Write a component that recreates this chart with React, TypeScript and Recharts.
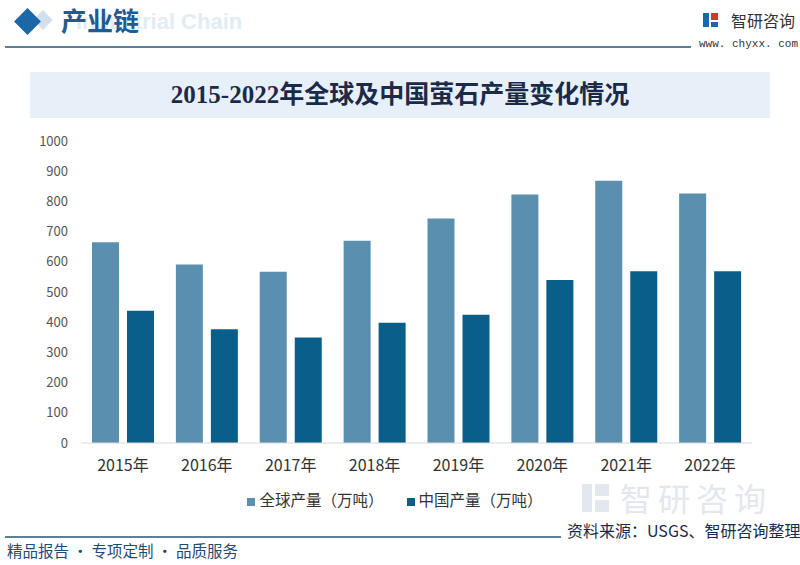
import React from 'react';
import { BarChart, Bar, XAxis, YAxis, Legend } from 'recharts';

const categories = ['2015年', '2016年', '2017年', '2018年', '2019年', '2020年', '2021年', '2022年'];
const globalOutput = [665, 591, 567, 670, 743, 823, 868, 826];
const chinaOutput = [438, 377, 349, 398, 425, 540, 569, 569];
const yTicks = [0, 100, 200, 300, 400, 500, 600, 700, 800, 900, 1000];
const seriesNames = ['全球产量（万吨）', '中国产量（万吨）'];

const data = categories.map((c, i) => ({ name: c, g: globalOutput[i], c: chinaOutput[i] }));

const CJK = '"Noto Sans CJK SC", "Noto Sans", sans-serif';

export default function App() {
  return (
    <div style={{ position: 'absolute', left: 0, top: 0, width: 800, height: 565, background: '#fff', overflow: 'hidden', fontFamily: CJK }}>
      {/* header */}
      <div style={{ position: 'absolute', left: 36, top: 13, width: 14, height: 14, background: '#d3dfeb', transform: 'rotate(45deg)' }} />
      <div style={{ position: 'absolute', left: 18, top: 12, width: 19, height: 19, background: '#1c67a8', transform: 'rotate(45deg)' }} />
      <div style={{ position: 'absolute', left: 76, top: 11, fontSize: 22, lineHeight: 1, fontWeight: 700, color: '#e2ecf5', fontFamily: 'Arial, "Liberation Sans", sans-serif', whiteSpace: 'nowrap' }}>Industrial Chain</div>
      <div style={{ position: 'absolute', left: 61, top: 6, fontSize: 26, lineHeight: 1.1, fontWeight: 700, color: '#1f5a92', fontFamily: CJK, whiteSpace: 'nowrap' }}>产业链</div>
      <div style={{ position: 'absolute', left: 5, top: 46, width: 686, height: 2, background: '#5e7f95' }} />
      <div style={{ position: 'absolute', left: 703, top: 13, width: 6, height: 14, background: '#1c67a8' }} />
      <div style={{ position: 'absolute', left: 711, top: 13, width: 7, height: 7, background: '#d8352a' }} />
      <div style={{ position: 'absolute', left: 711, top: 22, width: 7, height: 5, background: '#1c67a8' }} />
      <div style={{ position: 'absolute', left: 731, top: 8, fontSize: 16, color: '#333', whiteSpace: 'nowrap' }}>智研咨询</div>
      <div style={{ position: 'absolute', left: 699, top: 38, fontSize: 11, color: '#333', fontFamily: '"Liberation Mono", monospace', whiteSpace: 'nowrap' }}>www. chyxx. com</div>

      {/* title band */}
      <div style={{ position: 'absolute', left: 30, top: 72, width: 740, height: 46, background: '#e7f0f8' }} />
      <div style={{ position: 'absolute', left: 0, top: 80, width: 800, textAlign: 'center', fontSize: 25, lineHeight: 1.2, fontWeight: 700, color: '#1b2a48', fontFamily: '"Liberation Serif", "Noto Sans CJK SC", serif', whiteSpace: 'nowrap' }}>2015-2022年全球及中国萤石产量变化情况</div>

      {/* watermark bottom right */}
      <div style={{ position: 'absolute', left: 582, top: 484, width: 10, height: 28, background: '#e3e8ee' }} />
      <div style={{ position: 'absolute', left: 595, top: 484, width: 14, height: 12, background: '#e3e8ee' }} />
      <div style={{ position: 'absolute', left: 595, top: 500, width: 14, height: 12, background: '#e3e8ee' }} />
      <div style={{ position: 'absolute', left: 620, top: 481, fontSize: 32, lineHeight: 1, color: '#e3e8ee', letterSpacing: 6, whiteSpace: 'nowrap' }}>智研咨询</div>

      <div style={{ position: 'absolute', left: 0, top: 0 }}>
        <BarChart width={800} height={565} data={data} margin={{ top: 141, right: 48, bottom: 53, left: 0 }} barGap={8} barCategoryGap={11}>
          <XAxis dataKey="name" axisLine={{ stroke: '#d9d9d9' }} tickLine={false} tickMargin={11} height={45} tick={{ fontSize: 16, fill: '#333', fontFamily: CJK }} />
          <YAxis domain={[0, 1000]} ticks={yTicks} width={81} axisLine={false} tickLine={false} tickMargin={7} tick={{ fontSize: 13, fill: '#555', fontFamily: CJK }} interval={0} />
          <Legend verticalAlign="bottom" align="center" iconType="square" iconSize={8} height={24}
            itemSorter={(item: any) => (item.dataKey === 'g' ? 0 : 1)}
            formatter={(v: string, entry: any) => (
              <span style={{ color: '#333', fontSize: 15.5, fontFamily: CJK, marginRight: entry && entry.dataKey === 'g' ? 13 : 0 }}>{v}</span>
            )}
            wrapperStyle={{ fontSize: 15.5, left: 24 }} />
          <Bar dataKey="g" name={seriesNames[0]} fill="#5b8fb0" isAnimationActive={false} />
          <Bar dataKey="c" name={seriesNames[1]} fill="#0a5f8a" isAnimationActive={false} />
        </BarChart>
      </div>

      {/* footer */}
      <div style={{ position: 'absolute', left: 5, top: 536, width: 556, height: 2, background: '#5e7f95' }} />
      <div style={{ position: 'absolute', left: 567, top: 522, fontSize: 16, lineHeight: 1.1, color: '#1b2a48', whiteSpace: 'nowrap' }}>资料来源：USGS、智研咨询整理</div>
      <div style={{ position: 'absolute', left: 7, top: 541, fontSize: 15.5, lineHeight: 1.2, color: '#1f4a72', whiteSpace: 'nowrap' }}>精品报告 · 专项定制 · 品质服务</div>
    </div>
  );
}
